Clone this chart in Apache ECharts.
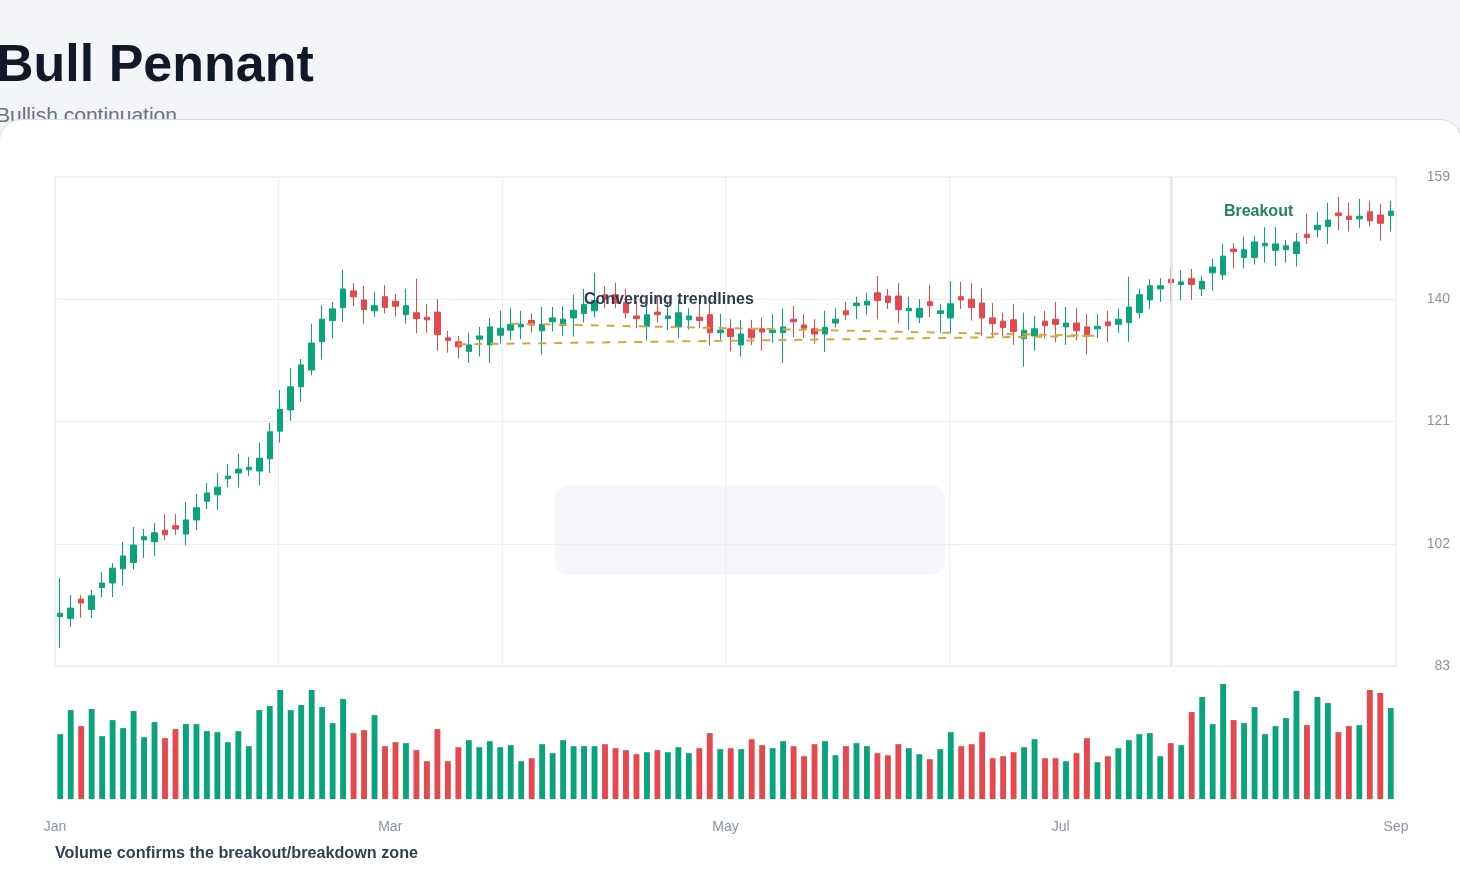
<!DOCTYPE html>
<html>
<head>
<meta charset="utf-8">
<title>Bull Pennant</title>
<script src="https://cdn.jsdelivr.net/npm/echarts@6/dist/echarts.min.js"></script>
<style>
html,body{margin:0;padding:0;width:1460px;height:880px;overflow:hidden;background:#f4f5f9;font-family:"Liberation Sans",Arial,Helvetica,sans-serif;}
.title{position:absolute;left:-4px;top:37px;font-size:52px;line-height:1;font-weight:700;color:#111827;white-space:nowrap;}
.sub{position:absolute;left:-4px;top:104px;font-size:21px;line-height:1;color:#6b7280;white-space:nowrap;}
.card{position:absolute;left:-1px;top:119px;width:1461px;height:820px;background:#fff;border:1px solid #d8dce6;border-radius:22px;}
#chart{position:absolute;left:0;top:0;width:1460px;height:880px;}
</style>
</head>
<body>
<div class="title">Bull Pennant</div>
<div class="sub">Bullish continuation</div>
<div class="card"></div>
<div id="chart"></div>
<script>
var upColor = '#0aa47c';
var downColor = '#e5484d';

// daily candles, Jan -> Sep
var opens = [
	90.7, 90.4, 93.4, 91.8, 95.2, 95.9, 98.1, 99.1, 102.6, 102.3,
	104.1, 104.8, 103.5, 105.7, 108.6, 109.6, 112.1, 113.0, 113.5, 113.3,
	115.2, 119.5, 122.8, 126.4, 129.0, 133.4, 136.7, 138.7, 141.3, 139.9,
	138.2, 140.4, 139.7, 137.6, 137.9, 137.2, 138.0, 134.0, 133.4, 131.9,
	133.8, 132.9, 134.4, 135.2, 135.7, 136.7, 135.1, 136.5, 135.9, 137.1,
	137.8, 138.2, 140.7, 140.7, 139.5, 137.4, 135.8, 138.0, 137.0, 135.7,
	136.8, 137.2, 137.6, 134.8, 135.4, 132.9, 135.4, 135.4, 134.8, 134.8,
	136.9, 136.0, 135.4, 134.6, 136.3, 138.2, 139.0, 139.1, 141.0, 140.5,
	140.5, 138.2, 137.2, 139.6, 137.8, 137.1, 140.4, 140.0, 139.4, 137.1,
	136.6, 136.8, 133.9, 134.3, 136.6, 136.9, 135.7, 136.3, 135.7, 135.4,
	136.5, 136.1, 136.4, 137.9, 139.9, 141.6, 143.1, 142.3, 143.2, 141.6,
	144.1, 143.8, 147.8, 146.5, 146.5, 148.3, 147.6, 147.7, 147.1, 150.1,
	150.8, 151.3, 153.4, 152.9, 152.5, 153.6, 153.1, 153.0
];
var closes = [
	91.2, 92.0, 92.8, 93.9, 95.9, 98.2, 100.1, 101.8, 103.1, 103.7,
	103.4, 104.3, 105.7, 107.6, 109.9, 110.8, 112.5, 113.6, 113.9, 115.3,
	119.4, 122.9, 126.4, 129.8, 133.2, 136.9, 138.5, 141.6, 140.4, 138.4,
	139.0, 138.7, 138.9, 139.0, 137.0, 136.8, 134.5, 133.6, 132.6, 132.9,
	134.3, 135.7, 135.5, 136.1, 136.1, 136.0, 136.1, 137.1, 136.9, 138.3,
	139.2, 139.8, 140.0, 139.4, 137.9, 137.0, 137.6, 137.6, 137.4, 137.9,
	137.4, 136.7, 134.8, 135.2, 134.2, 134.6, 134.0, 134.9, 135.2, 135.7,
	136.5, 135.5, 134.6, 135.6, 136.9, 137.6, 139.4, 139.7, 139.8, 139.5,
	138.4, 138.6, 138.6, 139.0, 138.2, 139.3, 139.9, 138.7, 137.1, 136.2,
	135.6, 135.0, 135.2, 135.4, 135.9, 136.1, 136.3, 135.1, 134.3, 135.8,
	135.9, 136.9, 138.8, 140.7, 142.1, 142.1, 142.6, 142.7, 142.3, 142.8,
	145.0, 146.7, 147.4, 147.7, 148.9, 148.7, 148.6, 148.3, 148.9, 149.6,
	151.5, 152.3, 153.0, 152.4, 152.9, 152.2, 151.8, 153.7
];
var lows = [
	85.8, 89.1, 90.5, 90.5, 93.7, 93.7, 95.5, 98.0, 99.8, 100.1,
	102.6, 103.4, 101.8, 104.1, 107.4, 107.2, 110.8, 110.7, 112.5, 111.1,
	113.0, 117.7, 121.1, 124.1, 128.2, 130.6, 133.9, 136.5, 138.9, 136.2,
	137.3, 137.8, 137.3, 136.2, 134.7, 134.8, 132.0, 131.7, 130.8, 130.1,
	131.1, 130.1, 133.1, 133.7, 133.8, 134.8, 131.4, 135.0, 134.3, 134.2,
	136.4, 137.2, 138.6, 138.6, 137.0, 135.5, 133.6, 136.4, 135.2, 134.0,
	135.3, 135.5, 132.8, 133.6, 131.9, 131.1, 132.9, 132.0, 133.2, 130.1,
	134.1, 134.0, 133.1, 131.8, 135.6, 136.8, 136.9, 137.6, 136.9, 138.5,
	136.3, 135.2, 136.3, 137.2, 134.8, 134.7, 138.5, 136.7, 134.3, 134.1,
	134.3, 132.9, 129.5, 132.0, 133.9, 133.3, 132.9, 133.6, 131.4, 134.0,
	133.3, 134.8, 133.4, 137.0, 138.5, 139.6, 139.6, 139.9, 139.9, 140.5,
	141.3, 143.0, 144.8, 144.8, 145.4, 145.7, 145.2, 145.7, 145.1, 148.6,
	149.6, 148.6, 150.7, 150.5, 151.1, 151.3, 149.1, 150.5
];
var highs = [
	96.7, 94.0, 94.0, 94.8, 97.6, 99.0, 102.3, 104.6, 104.3, 105.2,
	106.6, 106.6, 108.5, 109.7, 111.4, 113.0, 114.4, 116.0, 115.5, 117.7,
	120.8, 125.9, 129.3, 130.7, 136.2, 139.1, 139.6, 144.6, 142.5, 142.1,
	141.1, 142.2, 140.8, 141.6, 143.2, 139.3, 140.0, 135.1, 134.3, 134.8,
	135.7, 137.1, 138.2, 138.6, 138.2, 137.8, 138.8, 138.8, 138.9, 140.7,
	141.6, 144.1, 142.0, 142.6, 141.6, 139.6, 139.5, 140.7, 139.5, 139.8,
	138.6, 139.8, 139.9, 137.7, 136.9, 136.8, 136.8, 137.2, 137.7, 138.5,
	139.0, 137.7, 136.9, 138.2, 138.6, 139.6, 140.4, 141.0, 143.6, 141.6,
	142.5, 140.4, 140.0, 142.2, 139.3, 142.8, 142.7, 142.5, 141.7, 139.4,
	137.9, 139.3, 137.9, 137.4, 138.2, 139.6, 138.8, 138.6, 137.7, 137.7,
	138.2, 138.5, 143.5, 141.6, 143.1, 143.3, 144.7, 144.5, 144.7, 143.6,
	146.3, 148.6, 148.7, 149.7, 149.8, 151.2, 151.2, 149.2, 150.3, 153.3,
	153.6, 155.0, 155.9, 155.0, 155.6, 155.3, 154.8, 155.3
];
// volume in thousands
var volumes = [
	194, 266, 218, 269, 188, 236, 212, 263, 185, 230,
	182, 209, 224, 224, 203, 200, 170, 203, 158, 266,
	278, 326, 266, 281, 326, 275, 227, 299, 197, 206,
	251, 158, 170, 167, 146, 113, 209, 113, 155, 176,
	155, 173, 155, 161, 113, 122, 164, 137, 176, 158,
	158, 158, 164, 152, 146, 134, 140, 146, 140, 155,
	137, 152, 197, 149, 152, 149, 179, 161, 152, 173,
	158, 128, 164, 173, 131, 158, 167, 158, 137, 131,
	164, 152, 134, 119, 149, 200, 158, 164, 200, 122,
	128, 140, 155, 179, 122, 122, 113, 137, 182, 110,
	128, 152, 176, 194, 197, 128, 167, 161, 260, 305,
	224, 344, 236, 227, 275, 194, 218, 242, 323, 221,
	305, 287, 200, 218, 221, 326, 317, 272
];
var monthTicks = ['Jan', 'Mar', 'May', 'Jul', 'Sep'];

// pennant trendlines [candle index, price]
var trendUpper = [[43, 136.2], [99, 134.3]];
var trendLower = [[38, 133.0], [99, 134.3]];
var breakoutIndex = 106;

// annotations
var noteText = ['Converging trendlines', 'Breakout'];
var noteX = [58, 114];
var noteY = [140, 153.6];
var noteColor = ['#2d3a4f', '#23855f'];

var days = opens.map(function(v, i){ return 'D' + (i + 1); });

var candles = opens.map(function(o, i){
	return [o, closes[i], lows[i], highs[i]];
});
var volData = volumes.map(function(v, i){
	return {
		value: v,
		itemStyle: { color: closes[i] >= opens[i] ? upColor : downColor }
	};
});
var notes = noteText.map(function(t, i){
	return {
		value: [noteX[i], noteY[i]],
		label: {
			formatter: t,
			color: noteColor[i],
			offset: i == 1 ? [4, 0] : [1, 0]
		}
	};
});

var fontFamily = '"Liberation Sans", Arial, Helvetica, sans-serif';
var myChart = echarts.init(document.getElementById('chart'));
var options = {
	animation: false,
	textStyle: { fontFamily: fontFamily },
	grid: [
		{ left: 55, right: 64, top: 177, height: 489, show: true, borderColor: '#e3e6ec', borderWidth: 1 },
		{ left: 55, right: 64, top: 684, height: 115 }
	],
	xAxis: [
		{ type: 'category', gridIndex: 0, data: days, show: false, position: 'bottom' },
		{
			type: 'value', gridIndex: 0, min: 0, max: 6, interval: 1, position: 'top',
			axisLine: { show: false }, axisTick: { show: false }, axisLabel: { show: false },
			splitLine: { show: true, lineStyle: { color: '#eceef3' } }
		},
		{ type: 'category', gridIndex: 1, data: days, show: false, position: 'top' },
		{
			type: 'value', gridIndex: 1, min: 0, max: 4, interval: 1, position: 'bottom',
			axisLine: { show: false }, axisTick: { show: false }, splitLine: { show: false },
			axisLabel: {
				color: '#8a93a3', fontSize: 14, margin: 21,
				formatter: function(v){ return monthTicks[v] || ''; }
			}
		}
	],
	yAxis: [
		{
			type: 'value', gridIndex: 0, position: 'right', min: 83, max: 159, interval: 19,
			axisLine: { show: false }, axisTick: { show: false },
			axisLabel: { color: '#8a93a3', fontSize: 14, margin: 54, align: 'right' },
			splitLine: { lineStyle: { color: '#eceef3' } }
		},
		{ type: 'value', gridIndex: 1, min: 0, max: 'dataMax', show: false }
	],
	series: [
		{
			name: 'Price',
			type: 'candlestick',
			xAxisIndex: 0, yAxisIndex: 0,
			data: candles,
			barWidth: 6,
			itemStyle: {
				color: upColor, color0: downColor,
				borderColor: upColor, borderColor0: downColor,
				borderWidth: 1
			},
			markLine: {
				silent: true, symbol: 'none', label: { show: false },
				lineStyle: { color: '#dadde5', width: 1.5, type: 'solid' },
				data: [{ xAxis: breakoutIndex }]
			}
		},
		{
			name: 'Upper trend', type: 'line', xAxisIndex: 0, yAxisIndex: 0,
			data: trendUpper, symbol: 'none', silent: true, z: 5,
			lineStyle: { color: '#d8a43f', width: 2, type: [8, 8] }
		},
		{
			name: 'Lower trend', type: 'line', xAxisIndex: 0, yAxisIndex: 0,
			data: trendLower, symbol: 'none', silent: true, z: 5,
			lineStyle: { color: '#d8a43f', width: 2, type: [8, 8] }
		},
		{
			name: 'Notes', type: 'scatter', xAxisIndex: 0, yAxisIndex: 0,
			data: notes, symbolSize: 0, silent: true, z: 6,
			itemStyle: { opacity: 1 },
			label: { show: true, position: 'inside', fontSize: 16, fontWeight: 'bold', opacity: 1 }
		},
		{
			name: 'Volume', type: 'bar', xAxisIndex: 2, yAxisIndex: 1,
			data: volData, barWidth: '56%'
		}
	],
	graphic: [
		{
			type: 'rect', left: 555, top: 485, z: -1, silent: true,
			shape: { width: 390, height: 90, r: 14 },
			style: { fill: '#f6f7fb' }
		},
		{
			type: 'text', left: 55, top: 846, silent: true,
			style: {
				text: 'Volume confirms the breakout/breakdown zone',
				fill: '#334155', font: 'bold 16.2px ' + fontFamily
			}
		}
	]
};
myChart.setOption(options);
</script>
</body>
</html>
